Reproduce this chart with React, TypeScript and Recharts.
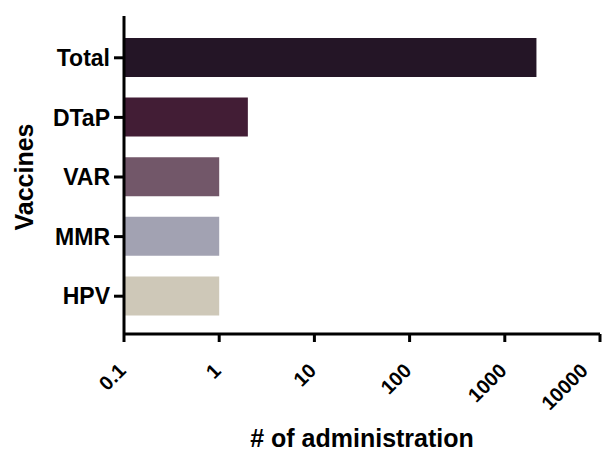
import { BarChart, Bar, XAxis, YAxis, Cell, Label } from 'recharts';

const vaccines = ['Total', 'DTaP', 'VAR', 'MMR', 'HPV'];
const administrations = [2150, 2, 1, 1, 1];
const barColors = ['#241526', '#421d35', '#725769', '#a2a2b2', '#cec8b8'];
const xTicks = [0.1, 1, 10, 100, 1000, 10000];

const data = vaccines.map((name, i) => ({ name, count: administrations[i] }));

const FONT = '"Liberation Sans", Arial, Helvetica, sans-serif';

// rotated tick labels under the log axis
function XTick({ x, y, payload }: any) {
  const tx = x + 3;
  const ty = y + 28;
  return (
    <text
      x={tx}
      y={ty}
      transform={`rotate(-45 ${tx} ${ty})`}
      textAnchor="end"
      fontFamily={FONT}
      fontWeight="bold"
      fontSize={20}
      fill="#000"
    >
      {payload.value}
    </text>
  );
}

export default function App() {
  return (
    <div style={{ position: 'absolute', left: 0, top: 0 }}>
      <BarChart
        width={606}
        height={454}
        data={data}
        layout="vertical"
        margin={{ top: 16, right: 6, bottom: 30, left: 0 }}
      >
        <XAxis
          type="number"
          dataKey="count"
          scale="log"
          domain={[0.1, 10000]}
          ticks={xTicks}
          allowDataOverflow
          height={90}
          tickSize={8}
          axisLine={{ stroke: '#000', strokeWidth: 3 }}
          tickLine={{ stroke: '#000', strokeWidth: 3 }}
          tick={<XTick />}
        >
          <Label
            content={() => (
              <text
                x={362}
                y={447}
                textAnchor="middle"
                fontFamily={FONT}
                fontWeight="bold"
                fontSize={25}
                fill="#000"
              >
                # of administration
              </text>
            )}
          />
        </XAxis>
        <YAxis
          type="category"
          dataKey="name"
          width={124}
          padding={{ top: 12, bottom: 8 }}
          tickSize={10}
          tickMargin={4}
          axisLine={{ stroke: '#000', strokeWidth: 3 }}
          tickLine={{ stroke: '#000', strokeWidth: 3 }}
          tick={{ fill: '#000', fontFamily: FONT, fontWeight: 'bold', fontSize: 23 }}
        >
          <Label
            content={() => (
              <text
                x={33}
                y={177}
                transform="rotate(-90 33 177)"
                textAnchor="middle"
                fontFamily={FONT}
                fontWeight="bold"
                fontSize={25}
                fill="#000"
              >
                Vaccines
              </text>
            )}
          />
        </YAxis>
        <Bar dataKey="count" barSize={39} isAnimationActive={false}>
          {data.map((d, i) => (
            <Cell key={d.name} fill={barColors[i]} />
          ))}
        </Bar>
      </BarChart>
    </div>
  );
}
